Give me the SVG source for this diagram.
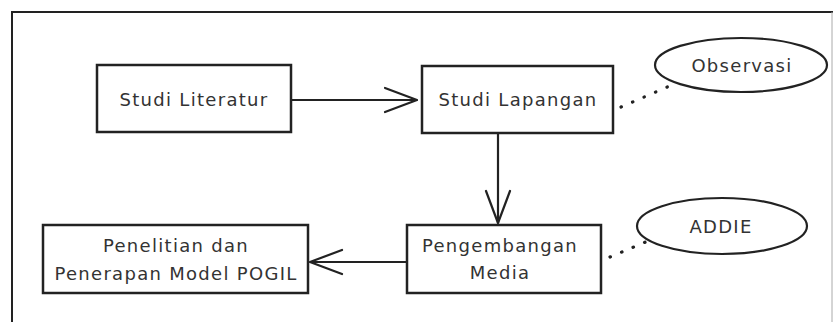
<svg xmlns="http://www.w3.org/2000/svg" width="833" height="322" viewBox="0 0 833 322">
<defs>
<style>
.box{fill:#fff;stroke:#222;stroke-width:2.5}
.ell{fill:#fff;stroke:#222;stroke-width:2.2}
.t{font-family:"DejaVu Sans","Liberation Sans",sans-serif;font-size:18px;fill:#333;text-anchor:middle;dominant-baseline:central;letter-spacing:1.3px}
.ln{fill:none;stroke:#222;stroke-width:2.2}
.dot{fill:none;stroke:#222;stroke-width:3.2;stroke-linecap:round;stroke-dasharray:0.5 12}
</style>
<marker id="ah" markerUnits="userSpaceOnUse" markerWidth="40" markerHeight="30" viewBox="-34 -15 36 30" refX="0" refY="0" orient="auto">
<path d="M -32 -12 L 0 0 L -32 12" fill="none" stroke="#222" stroke-width="2.2" stroke-linecap="round" stroke-linejoin="round"/>
</marker>
</defs>
<rect width="833" height="322" fill="#fff"/>
<g id="frame">
<path d="M 12 322 L 12 12 L 833 12" fill="none" stroke="#222" stroke-width="2"/>
<line x1="832" y1="12" x2="832" y2="322" stroke="#aaa" stroke-width="1"/>
</g>
<g id="connectors">
<line class="ln" x1="292" y1="100" x2="417" y2="100" marker-end="url(#ah)"/>
<line class="ln" x1="498" y1="134" x2="498" y2="223" marker-end="url(#ah)"/>
<line class="ln" x1="406" y1="262" x2="310" y2="262" marker-end="url(#ah)"/>
<line class="dot" x1="621" y1="107" x2="672" y2="85"/>
<line class="dot" x1="610" y1="257" x2="648" y2="241"/>
</g>
<g id="studi-literatur">
<rect class="box" x="97" y="65" width="194" height="67"/>
<text class="t" x="194" y="99">Studi Literatur</text>
</g>
<g id="studi-lapangan">
<rect class="box" x="422" y="66" width="191" height="67"/>
<text class="t" x="518" y="99">Studi Lapangan</text>
</g>
<g id="observasi">
<ellipse class="ell" cx="741" cy="65" rx="86" ry="27"/>
<text class="t" x="742" y="65">Observasi</text>
</g>
<g id="pengembangan-media">
<rect class="box" x="407" y="225" width="194" height="68"/>
<text class="t" x="500" y="245">Pengembangan</text>
<text class="t" x="500" y="272">Media</text>
</g>
<g id="addie">
<ellipse class="ell" cx="722" cy="226" rx="85" ry="28"/>
<text class="t" x="721" y="226">ADDIE</text>
</g>
<g id="penelitian">
<rect class="box" x="43" y="225" width="265" height="68"/>
<text class="t" x="176" y="245">Penelitian dan</text>
<text class="t" x="176" y="273">Penerapan Model POGIL</text>
</g>
</svg>
